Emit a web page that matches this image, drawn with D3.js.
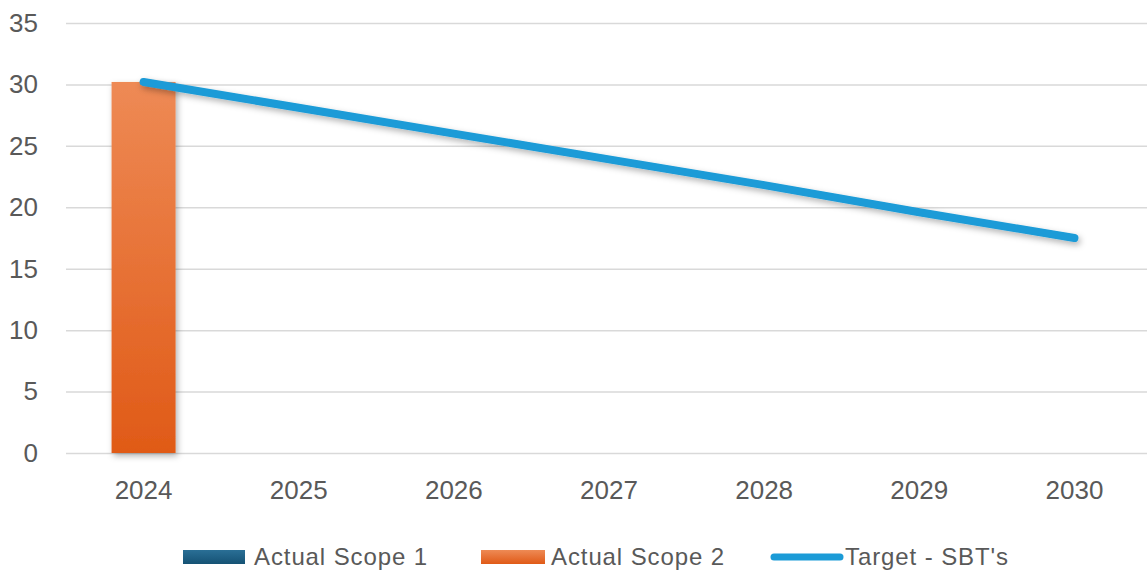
<!DOCTYPE html>
<html><head><meta charset="utf-8">
<script src="https://cdn.jsdelivr.net/npm/d3@7"></script>
<style>body{margin:0;background:#fff}svg{display:block}</style>
</head><body><svg id="c" width="1147" height="573"></svg>
<script>
const years = ["2024","2025","2026","2027","2028","2029","2030"];
const scope1 = [0, null, null, null, null, null, null];
const scope2 = [30.2, null, null, null, null, null, null];
const target = [30.2, 28.1, 26.0, 23.9, 21.8, 19.6, 17.5];
const yTicks = [0,5,10,15,20,25,30,35];
const legendLabels = ["Actual Scope 1","Actual Scope 2","Target - SBT's"];

const svg = d3.select("#c");
const font = "Liberation Sans, Arial, sans-serif";
const x = d3.scaleBand().domain(years).range([66, 1152]).paddingInner(0).paddingOuter(0);
const y = d3.scaleLinear().domain([0,35]).range([453, 23]);

const defs = svg.append("defs");
const g2 = defs.append("linearGradient").attr("id","gOr").attr("x1",0).attr("y1",0).attr("x2",0).attr("y2",1);
g2.append("stop").attr("offset","0%").attr("stop-color","#EE8A55");
g2.append("stop").attr("offset","100%").attr("stop-color","#E05A17");
const g1 = defs.append("linearGradient").attr("id","gBl").attr("x1",0).attr("y1",0).attr("x2",0).attr("y2",1);
g1.append("stop").attr("offset","0%").attr("stop-color","#2A6F96");
g1.append("stop").attr("offset","100%").attr("stop-color","#155274");
const f = defs.append("filter").attr("id","sh").attr("x","-20%").attr("y","-20%").attr("width","140%").attr("height","140%");
f.append("feDropShadow").attr("dx",2).attr("dy",3).attr("stdDeviation",3).attr("flood-color","#000").attr("flood-opacity",0.3);

// grid
const yAxis = d3.axisLeft(y).tickValues(yTicks).tickSize(-(1152-66)).tickFormat(d3.format("d"));
const ga = svg.append("g").attr("transform","translate(66,0)").call(yAxis);
ga.select(".domain").remove();
ga.selectAll(".tick line").attr("stroke","#d9d9d9").attr("stroke-width",1.5);
ga.selectAll(".tick text").attr("x",-28).attr("dy","0.32em").attr("fill","#595959").style("font-family",font).style("font-size","26px");

// x axis labels
const xAxis = d3.axisBottom(x).tickSize(0).tickPadding(0);
const gx = svg.append("g").attr("transform","translate(0,453)").call(xAxis);
gx.select(".domain").remove();
gx.selectAll(".tick text").attr("dy",0).attr("y",46).attr("fill","#595959").style("font-family",font).style("font-size","26px");

// bars
const bw = 64;
svg.append("g").selectAll("rect").data(years.map((d,i)=>({d,v:scope2[i]})).filter(o=>o.v!=null))
  .join("rect").attr("x",o=>x(o.d)+x.bandwidth()/2-bw/2).attr("width",bw)
  .attr("y",o=>y(o.v)).attr("height",o=>y(0)-y(o.v)).attr("fill","url(#gOr)").attr("filter","url(#sh)");

// line
const line = d3.line().x((d,i)=>x(years[i])+x.bandwidth()/2).y(d=>y(d));
svg.append("path").datum(target).attr("d",line).attr("fill","none").attr("stroke","#1B9BD7")
  .attr("stroke-width",8).attr("stroke-linecap","round").attr("filter","url(#sh)");

// legend
const lg = svg.append("g").style("font-family",font).style("font-size","24px").style("letter-spacing","0.9px");
lg.append("rect").attr("x",183).attr("y",550).attr("width",62).attr("height",14).attr("fill","url(#gBl)");
lg.append("text").attr("x",254).attr("y",565).attr("fill","#595959").text(legendLabels[0]);
lg.append("rect").attr("x",481).attr("y",550).attr("width",64).attr("height",14).attr("fill","url(#gOr)");
lg.append("text").attr("x",551).attr("y",565).attr("fill","#595959").text(legendLabels[1]);
lg.append("line").attr("x1",774).attr("x2",840).attr("y1",557).attr("y2",557).attr("stroke","#1B9BD7").attr("stroke-width",7).attr("stroke-linecap","round");
lg.append("text").attr("x",845).attr("y",565).attr("fill","#595959").text(legendLabels[2]);
</script></body></html>
